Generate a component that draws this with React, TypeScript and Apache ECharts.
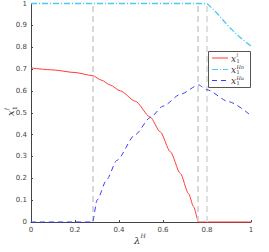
import React, { useEffect, useRef } from "react";
import * as echarts from "echarts";

const xTicks = [0, 0.2, 0.4, 0.6, 0.8, 1];
const yTicks = [0, 0.1, 0.2, 0.3, 0.4, 0.5, 0.6, 0.7, 0.8, 0.9, 1];
const vLines = [0.28, 0.762, 0.8];

const redX = [0, 0.1, 0.2, 0.28, 0.32, 0.36, 0.406, 0.474, 0.542, 0.588, 0.633, 0.679, 0.716, 0.739, 0.762, 0.8, 0.9, 1];
const redY = [0.705, 0.696, 0.684, 0.67, 0.649, 0.627, 0.6, 0.553, 0.48, 0.412, 0.322, 0.222, 0.13, 0.07, 0, 0, 0, 0];

const cyanX = [0, 0.4, 0.8, 0.838, 0.898, 0.95, 1];
const cyanY = [1, 1, 1, 0.964, 0.895, 0.845, 0.805];

const blueX = [0, 0.28, 0.3, 0.345, 0.39, 0.474, 0.542, 0.6, 0.68, 0.762, 0.8, 0.9, 1];
const blueY = [0, 0, 0.1, 0.195, 0.282, 0.4, 0.478, 0.53, 0.585, 0.627, 0.605, 0.55, 0.487];

const seriesNames = ["l", "Hn", "Hu"];
const seriesColors = ["#ff3b3b", "#4ccaf5", "#3a3aff"];
const seriesDash: any[] = ["solid", [6, 2, 1, 2], [5, 4]];

const zip = (xs: number[], ys: number[]) => xs.map((x, i) => [x, ys[i]]);

export default function App() {
  const ref = useRef<HTMLDivElement>(null);
  useEffect(() => {
    if (!ref.current) return;
    const chart = echarts.init(ref.current, undefined, { renderer: "svg" });
    const datas = [zip(redX, redY), zip(cyanX, cyanY), zip(blueX, blueY)];
    const axisCommon = {
      axisLine: { show: true, lineStyle: { color: "#444", width: 1 } },
      axisTick: { show: true, inside: true, length: 2, lineStyle: { color: "#444" } },
      splitLine: { show: false },
      axisLabel: { fontSize: 7, color: "#444", fontFamily: "DejaVu Sans", margin: 4 },
    };
    const legendRows = [58, 69.5, 80.5];
    const legendGraphics: any[] = [
      { type: "rect", shape: { x: 208.5, y: 51.5, width: 42, height: 36 }, style: { fill: "#fff", stroke: "#555", lineWidth: 1 }, z: 10 },
    ];
    seriesNames.forEach((n, i) => {
      legendGraphics.push({
        type: "line",
        shape: { x1: 212, y1: legendRows[i], x2: 228, y2: legendRows[i] },
        style: { stroke: seriesColors[i], lineWidth: 1, lineDash: seriesDash[i] === "solid" ? null : seriesDash[i] },
        z: 11,
      });
      legendGraphics.push({
        type: "text", x: 231, y: legendRows[i] + 0.5, z: 11,
        style: { text: "x", font: "italic 9px 'DejaVu Serif'", fill: "#333", verticalAlign: "middle" },
      });
      legendGraphics.push({
        type: "text", x: 236.5, y: legendRows[i] - 3, z: 11,
        style: { text: n, font: "italic 5px 'DejaVu Serif'", fill: "#333", verticalAlign: "middle" },
      });
      legendGraphics.push({
        type: "text", x: 236.5, y: legendRows[i] + 2.6, z: 11,
        style: { text: "1", font: "5px 'DejaVu Serif'", fill: "#333", verticalAlign: "middle" },
      });
    });
    chart.setOption({
      animation: false,
      backgroundColor: "#fff",
      grid: { left: 31, right: 18, top: 2, bottom: 30 },
      xAxis: {
        type: "value", min: 0, max: 1, interval: 0.2,
        ...axisCommon,
        axisLabel: { ...axisCommon.axisLabel, formatter: (v: number) => (xTicks.includes(+v.toFixed(1)) ? String(+v.toFixed(1)) : "") },
      },
      yAxis: {
        type: "value", min: 0, max: 1, interval: 0.1,
        ...axisCommon,
        axisLabel: { ...axisCommon.axisLabel, formatter: (v: number) => (yTicks.includes(+v.toFixed(1)) ? String(+v.toFixed(1)) : "") },
      },
      series: [
        {
          type: "line", name: "vlines", data: [], silent: true,
          markLine: {
            symbol: "none", silent: true, label: { show: false },
            data: vLines.map((x, i) => ({
              xAxis: x,
              lineStyle: { color: i === 2 ? "#e0e0e0" : "#cccccc", width: i === 2 ? 2 : 1.5, type: [6, 4] },
            })),
          },
          z: 1,
        },
        ...datas.map((d, i) => ({
          type: "line", name: seriesNames[i], data: d, showSymbol: false, symbol: "none",
          clip: false,
          smooth: i === 1 ? false : 0.25, smoothMonotone: "x",
          lineStyle: { color: seriesColors[i], width: i === 1 ? 1.3 : 1, type: seriesDash[i] },
          z: 3 + i,
        })),
      ],
      graphic: [
        ...legendGraphics,
        {
          type: "group", x: 10, y: 112, rotation: Math.PI / 2,
          children: [
            { type: "text", x: -4, y: 0, style: { text: "x", font: "italic 10px 'DejaVu Serif'", fill: "#333", verticalAlign: "middle" } },
            { type: "text", x: 2, y: -4, style: { text: "l", font: "italic 6px 'DejaVu Serif'", fill: "#333", verticalAlign: "middle" } },
            { type: "text", x: 2, y: 4, style: { text: "1", font: "6px 'DejaVu Serif'", fill: "#333", verticalAlign: "middle" } },
          ],
        },
        { type: "text", x: 134, y: 240, style: { text: "λ", font: "italic 10px 'DejaVu Serif'", fill: "#333", verticalAlign: "middle" } },
        { type: "text", x: 140.5, y: 235, style: { text: "H", font: "italic 6px 'DejaVu Serif'", fill: "#333", verticalAlign: "middle" } },
      ],
    });
    return () => chart.dispose();
  }, []);
  return <div ref={ref} style={{ position: "fixed", left: 0, top: 0, width: 269, height: 252 }} />;
}
